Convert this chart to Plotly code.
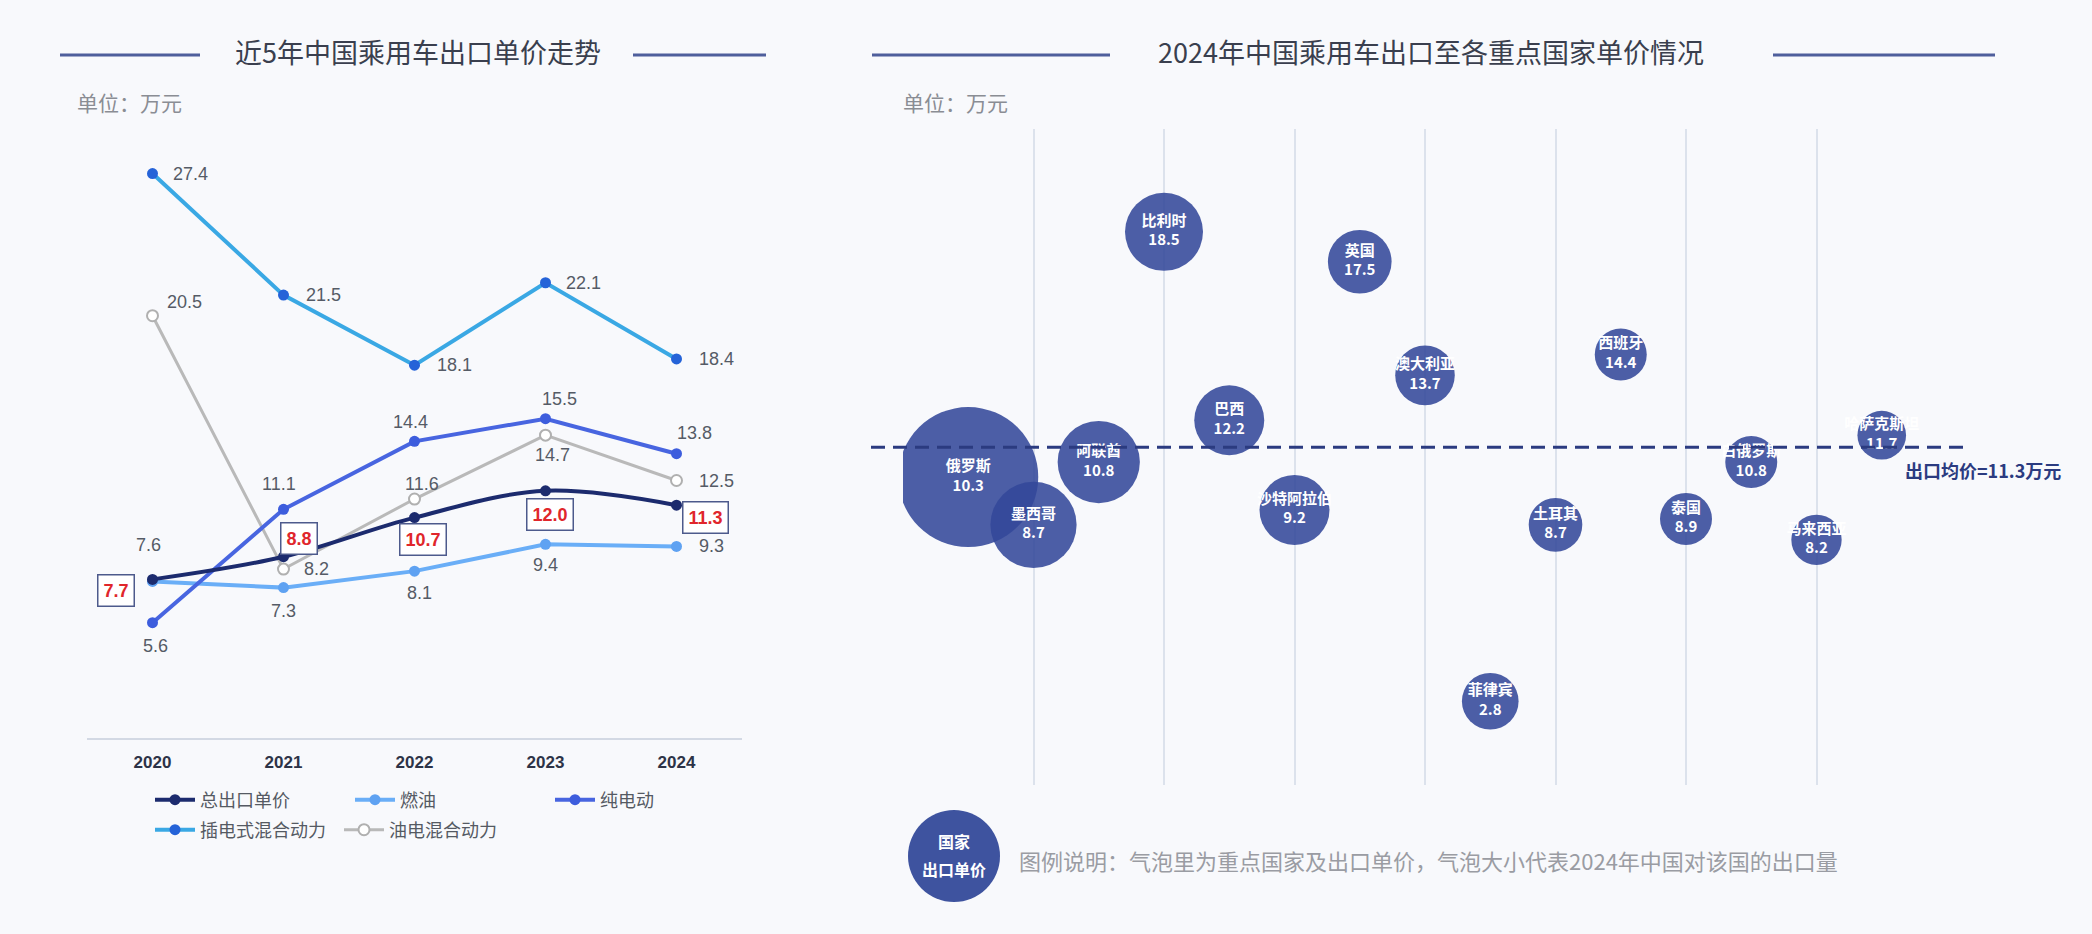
import plotly.graph_objects as go

W, H = 2092, 934

# ---------------- data ----------------
years = ["2020", "2021", "2022", "2023", "2024"]
total_price = [7.7, 8.8, 10.7, 12.0, 11.3]
fuel_price = [7.6, 7.3, 8.1, 9.4, 9.3]
bev_price = [5.6, 11.1, 14.4, 15.5, 13.8]
phev_price = [27.4, 21.5, 18.1, 22.1, 18.4]
hev_price = [20.5, 8.2, 11.6, 14.7, 12.5]

series_names = ["总出口单价", "燃油", "纯电动", "插电式混合动力", "油电混合动力"]

countries = ["俄罗斯", "墨西哥", "阿联酋", "比利时", "巴西", "沙特阿拉伯", "英国", "澳大利亚",
             "菲律宾", "土耳其", "西班牙", "泰国", "白俄罗斯", "马来西亚", "哈萨克斯坦"]
country_price = [10.3, 8.7, 10.8, 18.5, 12.2, 9.2, 17.5, 13.7, 2.8, 8.7, 14.4, 8.9, 10.8, 8.2, 11.7]
# estimated 2024 export volume (万辆) – drives bubble size
country_volume = [116, 44, 40, 36, 29, 29, 24, 21, 19, 17, 16, 16, 16, 15, 14]
avg_price = 11.3

# ---------------- helpers ----------------
def px(x):
    return x / W

def py(y):
    return 1 - y / H

CJK = "Noto Sans CJK SC"
NUM = "Liberation Sans, Arial, sans-serif"

year_pos = list(range(len(years)))
country_pos = list(range(len(countries)))

fig = go.Figure()

# ---------------- left line chart ----------------
styles = {
    "总出口单价": dict(line=dict(color="#1c2b6e", width=4, shape="spline"),
                  marker=dict(color="#1c2b6e", size=11)),
    "燃油": dict(line=dict(color="#6aaef7", width=4),
               marker=dict(color="#5fa2f2", size=11)),
    "纯电动": dict(line=dict(color="#4865e0", width=4),
                marker=dict(color="#3d5ddd", size=11)),
    "插电式混合动力": dict(line=dict(color="#3aa8e4", width=4),
                    marker=dict(color="#2563d8", size=11)),
    "油电混合动力": dict(line=dict(color="#b9b9b9", width=3),
                   marker=dict(color="white", size=11, line=dict(color="#b0b0b0", width=2))),
}
values = {
    "总出口单价": total_price,
    "燃油": fuel_price,
    "纯电动": bev_price,
    "插电式混合动力": phev_price,
    "油电混合动力": hev_price,
}
legend_of = {"总出口单价": ("legend", 1), "燃油": ("legend", 2), "纯电动": ("legend", 3),
             "插电式混合动力": ("legend2", 1), "油电混合动力": ("legend2", 2)}
draw_order = ["油电混合动力", "燃油", "纯电动", "插电式混合动力", "总出口单价"]

for name in draw_order:
    lg, rank = legend_of[name]
    fig.add_trace(go.Scatter(
        x=year_pos, y=values[name], name=name, mode="lines+markers",
        xaxis="x", yaxis="y", legend=lg, legendrank=rank,
        cliponaxis=False, hoverinfo="skip", **styles[name]))

# label offsets (xanchor, xshift, yshift) per point
label_offsets = {
    "插电式混合动力": [("left", 18, 0), ("left", 20, 0), ("left", 20, 0), ("left", 18, 0), ("left", 20, 0)],
    "油电混合动力": [("left", 12, 14), ("left", 18, 0), ("center", 7, 15), ("center", 7, -20), ("left", 20, 0)],
    "纯电动": [("center", 3, -23), ("center", -5, 25), ("center", -4, 19), ("center", 14, 20), ("center", 18, 21)],
    "燃油": [("center", -4, 36), ("center", 0, -23), ("center", 5, -22), ("center", 0, -21), ("left", 20, 0)],
}
annotations = []
for name, offs in label_offsets.items():
    for xp, v, (xa, xs, ys) in zip(year_pos, values[name], offs):
        annotations.append(dict(
            x=xp, y=v, xref="x", yref="y", text=f"{v}", showarrow=False,
            xanchor=xa, yanchor="middle", xshift=xs, yshift=ys,
            font=dict(family=NUM, size=18, color="#555b66")))

total_offsets = [(-37, -11), (15, 18), (8, -22), (4, -24), (29, -12)]
for xp, v, (xs, ys) in zip(year_pos, total_price, total_offsets):
    annotations.append(dict(
        x=xp, y=v, xref="x", yref="y", text=f"<b>{v:.1f}</b>", showarrow=False,
        xanchor="center", yanchor="middle", xshift=xs, yshift=ys,
        bgcolor="white", bordercolor="#4d5a8c", borderwidth=1.5, borderpad=5,
        font=dict(family=NUM, size=18, color="#e0262b")))

# ---------------- right bubble chart ----------------
max_d = 140
fig.add_trace(go.Scatter(
    x=country_pos, y=country_price,
    xaxis="x2", yaxis="y2", mode="markers+text",
    text=[f"{c}<br>{p}" for c, p in zip(countries, country_price)],
    textposition="middle center",
    textfont=dict(family=CJK, size=15, color="white", weight="bold"),
    marker=dict(size=country_volume, sizemode="area",
                sizeref=2 * max(country_volume) / max_d ** 2,
                color="#33489a", opacity=0.88, line=dict(width=0)),
    cliponaxis=True, showlegend=False, hoverinfo="skip"))

shapes = []
# average dashed line
shapes.append(dict(type="line", xref="paper", yref="y2", x0=px(871), x1=px(1967),
                   y0=avg_price, y1=avg_price, layer="above",
                   line=dict(color="#2b3b80", width=3, dash="14px,8px")))
annotations.append(dict(x=px(1903), y=avg_price, xref="paper", yref="y2",
                        text=f"<b>出口均价={avg_price}万元</b>", showarrow=False,
                        xanchor="left", yanchor="middle", yshift=-23,
                        font=dict(family=CJK, size=18, color="#2b3b80")))

# titles and decorative lines
title_line = dict(color="#4f5f9c", width=3)
for x0, x1 in [(60, 200), (633, 766), (872, 1110), (1773, 1995)]:
    shapes.append(dict(type="line", xref="paper", yref="paper",
                       x0=px(x0), x1=px(x1), y0=py(55), y1=py(55), line=title_line))
annotations.append(dict(x=px(418), y=py(52), xref="paper", yref="paper",
                        text="近5年中国乘用车出口单价走势", showarrow=False,
                        xanchor="center", yanchor="middle",
                        font=dict(family=CJK, size=27, color="#3a3f4e")))
annotations.append(dict(x=px(1431), y=py(52), xref="paper", yref="paper",
                        text="2024年中国乘用车出口至各重点国家单价情况", showarrow=False,
                        xanchor="center", yanchor="middle",
                        font=dict(family=CJK, size=27, color="#3a3f4e")))
for x0 in (75, 901):
    annotations.append(dict(x=px(x0), y=py(102), xref="paper", yref="paper",
                            text="单位：万元", showarrow=False,
                            xanchor="left", yanchor="middle",
                            font=dict(family=CJK, size=21, color="#8a8d94")))

# bubble legend
shapes.append(dict(type="circle", xref="paper", yref="paper",
                   xsizemode="pixel", ysizemode="pixel",
                   xanchor=px(954), yanchor=py(856),
                   x0=-46, x1=46, y0=-46, y1=46,
                   fillcolor="#3e539f", line=dict(width=0)))
for txt, ys in (("国家", 15), ("出口单价", -13)):
    annotations.append(dict(x=px(954), y=py(856), xref="paper", yref="paper",
                            text=f"<b>{txt}</b>", showarrow=False, yshift=ys,
                            xanchor="center", yanchor="middle",
                            font=dict(family=CJK, size=16, color="white")))
annotations.append(dict(x=px(1017), y=py(860), xref="paper", yref="paper",
                        text="图例说明：气泡里为重点国家及出口单价，气泡大小代表2024年中国对该国的出口量",
                        showarrow=False, xanchor="left", yanchor="middle",
                        font=dict(family=CJK, size=22, color="#9a9ca3")))

legend_common = dict(orientation="h", xanchor="left", yanchor="middle",
                     bgcolor="rgba(0,0,0,0)", font=dict(family=CJK, size=18, color="#555a63"),
                     itemwidth=40, traceorder="normal",
                     itemclick=False, itemdoubleclick=False)

fig.update_layout(
    width=W, height=H, margin=dict(l=0, r=0, t=0, b=0),
    paper_bgcolor="#f8f9fc", plot_bgcolor="rgba(0,0,0,0)",
    xaxis=dict(domain=[px(87), px(742)], range=[-0.5, 4.5],
               tickmode="array", tickvals=year_pos, ticktext=years,
               showgrid=False, zeroline=False, showline=True, linecolor="#d3d9e4", linewidth=1.5,
               ticks="", ticklabelstandoff=8,
               tickfont=dict(family=NUM, size=17, color="#2d3347", weight="bold"),
               fixedrange=True),
    yaxis=dict(domain=[py(738), py(120)], range=[0, 30], visible=False, fixedrange=True),
    xaxis2=dict(domain=[px(903), px(1947)], range=[-1, 15], tickmode="linear", tick0=-1, dtick=2,
                showgrid=True, gridcolor="#dce2ec", gridwidth=1.5, zeroline=False,
                showticklabels=False, ticks="", showline=False, anchor="y2", fixedrange=True),
    yaxis2=dict(domain=[py(785), py(129)], range=[0, 21.94], visible=False, anchor="x2",
                fixedrange=True),
    legend=dict(x=px(150), y=py(800), entrywidth=145, **legend_common),
    legend2=dict(x=px(150), y=py(830), entrywidth=134, **legend_common),
    shapes=shapes, annotations=annotations,
    showlegend=True,
)

fig.write_html("out.html", config={"displayModeBar": False},
               post_script="document.body.style.margin='0px';document.body.style.padding='0px';"
                           "document.documentElement.style.overflow='hidden';")
